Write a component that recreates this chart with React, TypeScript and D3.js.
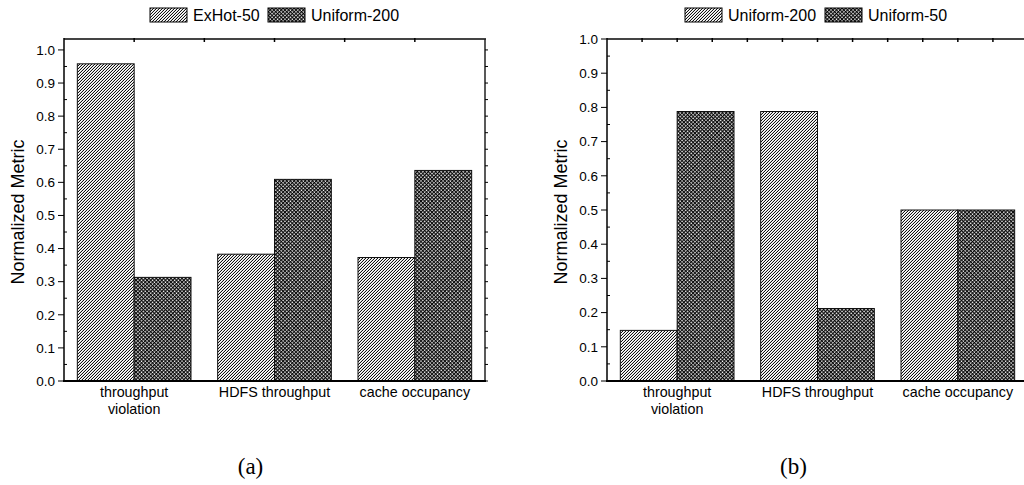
import React from "react";
import * as d3 from "d3";

const categories = ["throughput\nviolation", "HDFS throughput", "cache occupancy"];

const seriesA = [
  { name: "ExHot-50", pattern: "hatch", values: [0.958, 0.383, 0.373] },
  { name: "Uniform-200", pattern: "cross", values: [0.313, 0.609, 0.636] },
];
const seriesB = [
  { name: "Uniform-200", pattern: "hatch", values: [0.148, 0.788, 0.5] },
  { name: "Uniform-50", pattern: "cross", values: [0.788, 0.212, 0.5] },
];
const yTicks = [0, 0.1, 0.2, 0.3, 0.4, 0.5, 0.6, 0.7, 0.8, 0.9, 1.0];
const captions = ["(a)", "(b)"];

const FONT = "'Liberation Sans', Arial, sans-serif";

type Series = { name: string; pattern: string; values: number[] };

function Panel({
  series,
  x0,
  yMax,
  topTickStep,
  caption,
  legendX,
  legendGap,
}: {
  series: Series[];
  x0: number;
  yMax: number;
  topTickStep: number;
  caption: string;
  legendX: number;
  legendGap: number;
}) {
  const top = 39;
  const bottom = 381;
  const left = x0;
  const right = x0 + 421;
  const x = d3.scaleLinear().domain([0.5, 3.5]).range([left, right]);
  const y = d3.scaleLinear().domain([0, yMax]).range([bottom, top]);
  const groupW = (x(2) - x(1)) * 0.81;
  const barW = groupW / series.length;
  const minorY = d3.range(0.05, yMax, 0.1);
  const rightTicks = d3.range(0, yMax + 0.001, 0.05);
  const topTicks = d3.range(0.5 + topTickStep, 3.5 - 0.001, topTickStep);
  return (
    <g>
      {/* legend */}
      {series.map((s, i) => {
        const lx = legendX + i * legendGap;
        return (
          <g key={s.name}>
            <rect x={lx} y={8} width={37} height={14} fill={`url(#${s.pattern})`} stroke="#000" strokeWidth={1} />
            <text x={lx + 43} y={21} fontSize={16} fontFamily={FONT}>
              {s.name}
            </text>
          </g>
        );
      })}
      {/* bars */}
      {series.map((s, si) =>
        s.values.map((v, ci) => {
          const bx = x(ci + 1) - groupW / 2 + si * barW;
          return (
            <rect
              key={`${si}-${ci}`}
              x={bx}
              y={y(v)}
              width={barW}
              height={y(0) - y(v)}
              fill={`url(#${s.pattern})`}
              stroke="#111"
              strokeWidth={1}
            />
          );
        })
      )}
      {/* frame */}
      <line x1={left} x2={right + 1} y1={top} y2={top} stroke="#444" strokeWidth={2} />
      <line x1={right} x2={right} y1={top} y2={bottom} stroke="#222" strokeWidth={1.5} />
      <line x1={left} x2={left} y1={top - 1} y2={bottom} stroke="#000" strokeWidth={1.5} />
      <line x1={left - 1} x2={right + 1} y1={bottom} y2={bottom} stroke="#000" strokeWidth={2} />
      {/* top ticks */}
      {topTicks.map((t) => (
        <line key={`tt${t}`} x1={x(t)} x2={x(t)} y1={top - 1} y2={top + 3} stroke="#000" strokeWidth={1.5} />
      ))}
      {/* y ticks */}
      {yTicks.map((t) => (
        <g key={`y${t}`}>
          <line x1={left - 6} x2={left} y1={y(t)} y2={y(t)} stroke="#000" strokeWidth={1} />
          <text x={left - 9} y={y(t) + 4.8} textAnchor="end" fontSize={13.5} fontFamily={FONT}>
            {d3.format(".1f")(t)}
          </text>
        </g>
      ))}
      {minorY.map((t) => (
        <line key={`m${t}`} x1={left} x2={left + 3} y1={y(t)} y2={y(t)} stroke="#000" strokeWidth={1} />
      ))}
      {rightTicks.map((t) => (
        <line key={`r${t}`} x1={right} x2={right + 3} y1={y(t)} y2={y(t)} stroke="#000" strokeWidth={1} />
      ))}
      {/* x labels */}
      {categories.map((c, i) => (
        <text key={c} x={x(i + 1)} y={397} textAnchor="middle" fontSize={14.3} fontFamily={FONT}>
          {c.split("\n").map((ln, k) => (
            <tspan key={k} x={x(i + 1)} dy={k === 0 ? 0 : 16.5}>
              {ln}
            </tspan>
          ))}
        </text>
      ))}
      {/* y label */}
      <text
        transform={`translate(${left - 40},${(top + bottom) / 2 + 2}) rotate(-90)`}
        textAnchor="middle"
        fontSize={18}
        fontFamily={FONT}
      >
        Normalized Metric
      </text>
      {/* caption */}
      <text x={x(2) - 24} y={474} textAnchor="middle" fontSize={23} fontFamily="'Liberation Serif', 'Times New Roman', serif">
        {caption}
      </text>
    </g>
  );
}

export default function App() {
  return (
    <svg
      width={1024}
      height={485}
      style={{ position: "absolute", left: 0, top: 0, background: "#fff" }}
    >
      <defs>
        {/* "/" hatch, 3px pixel tile */}
        <pattern id="hatch" patternUnits="userSpaceOnUse" width={3} height={3}>
          <g shapeRendering="crispEdges">
            <rect width={3} height={3} fill="#fff" />
            <rect x={2} y={0} width={1} height={1} fill="#111" />
            <rect x={1} y={1} width={1} height={1} fill="#111" />
            <rect x={0} y={2} width={1} height={1} fill="#111" />
            <rect x={1} y={0} width={1} height={1} fill="#d8d8d8" />
            <rect x={0} y={1} width={1} height={1} fill="#d8d8d8" />
            <rect x={2} y={2} width={1} height={1} fill="#d8d8d8" />
          </g>
        </pattern>
        {/* fine cross-hatch */}
        <pattern id="cross" patternUnits="userSpaceOnUse" width={2.6} height={2.6} patternTransform="rotate(45)">
          <rect width={2.6} height={2.6} fill="#fff" />
          <line x1={0.6} y1={0} x2={0.6} y2={2.6} stroke="#000" strokeWidth={1.1} />
          <line x1={0} y1={0.6} x2={2.6} y2={0.6} stroke="#000" strokeWidth={1.1} />
        </pattern>
      </defs>
      <rect width={1024} height={485} fill="#fff" />
      <Panel
        series={seriesA}
        x0={64}
        yMax={1.033}
        topTickStep={0.5}
        caption={captions[0]}
        legendX={150}
        legendGap={118}
      />
      <Panel
        series={seriesB}
        x0={607}
        yMax={1.0}
        topTickStep={0.25}
        caption={captions[1]}
        legendX={685}
        legendGap={140}
      />
    </svg>
  );
}
